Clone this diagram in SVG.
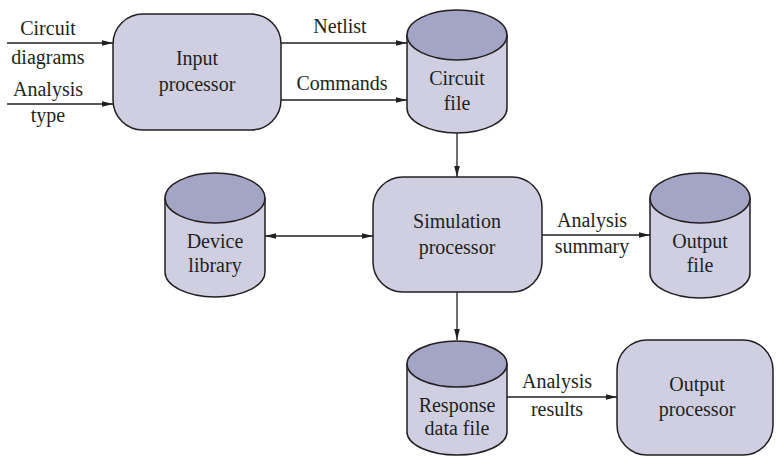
<svg xmlns="http://www.w3.org/2000/svg" width="776" height="457" viewBox="0 0 776 457" font-family="'Liberation Serif', 'Times New Roman', 'DejaVu Serif', serif">
<defs>
<marker id="ah" markerWidth="12" markerHeight="8" refX="11" refY="4" orient="auto-start-reverse" markerUnits="userSpaceOnUse">
<path d="M0,1.2 L11,4 L0,6.8 Z" fill="#231f20"/>
</marker>
<style>
.box{fill:#cfcfe1;stroke:#231f20;stroke-width:1.5}
.top{fill:#a4a4c5;stroke:#231f20;stroke-width:1.5}
.ln{stroke:#231f20;stroke-width:1.3;fill:none}
text{font-family:'Liberation Serif','Times New Roman','DejaVu Serif',serif;font-size:20px;fill:#231f20;text-anchor:middle}
</style>
</defs>
<rect width="776" height="457" fill="#ffffff"/>
<g id="connectors">
<line class="ln" x1="7" y1="43" x2="113" y2="43" marker-end="url(#ah)"/>
<line class="ln" x1="7" y1="104" x2="113" y2="104" marker-end="url(#ah)"/>
<line class="ln" x1="281" y1="43" x2="407" y2="43" marker-end="url(#ah)"/>
<line class="ln" x1="281" y1="100" x2="407" y2="100" marker-end="url(#ah)"/>
<line class="ln" x1="457" y1="133" x2="457" y2="177" marker-end="url(#ah)"/>
<line class="ln" x1="265" y1="236" x2="373" y2="236" marker-start="url(#ah)" marker-end="url(#ah)"/>
<line class="ln" x1="542" y1="235" x2="650" y2="235" marker-end="url(#ah)"/>
<line class="ln" x1="457" y1="292" x2="457" y2="340" marker-end="url(#ah)"/>
<line class="ln" x1="507" y1="397" x2="617" y2="397" marker-end="url(#ah)"/>
<text x="48" y="35">Circuit</text>
<text x="48" y="64">diagrams</text>
<text x="48" y="96">Analysis</text>
<text x="48" y="122">type</text>
<text x="340" y="33">Netlist</text>
<text x="342" y="90">Commands</text>
<text x="592" y="227">Analysis</text>
<text x="592" y="253">summary</text>
<text x="557" y="388">Analysis</text>
<text x="557" y="416">results</text>
</g>
<g id="input-processor">
<rect class="box" x="113" y="14" width="168" height="116" rx="30" ry="30"/>
<text x="197" y="65">Input</text>
<text x="197" y="91">processor</text>
</g>
<g id="circuit-file">
<path class="box" d="M407,35 L407,108 A50,25 0 0 0 507,108 L507,35 Z"/>
<ellipse class="top" cx="457" cy="35" rx="50" ry="25"/>
<text x="457" y="85">Circuit</text>
<text x="457" y="110">file</text>
</g>
<g id="simulation-processor">
<rect class="box" x="373" y="177" width="169" height="115" rx="30" ry="30"/>
<text x="457" y="228">Simulation</text>
<text x="457" y="254">processor</text>
</g>
<g id="device-library">
<path class="box" d="M165,198 L165,272 A50,25 0 0 0 265,272 L265,198 Z"/>
<ellipse class="top" cx="215" cy="198" rx="50" ry="25"/>
<text x="215" y="248">Device</text>
<text x="215" y="272">library</text>
</g>
<g id="output-file">
<path class="box" d="M650,198 L650,273 A50,25 0 0 0 750,273 L750,198 Z"/>
<ellipse class="top" cx="700" cy="198" rx="50" ry="25"/>
<text x="700" y="248">Output</text>
<text x="700" y="272">file</text>
</g>
<g id="response-data-file">
<path class="box" d="M407,364 L407,432 A50,23 0 0 0 507,432 L507,364 Z"/>
<ellipse class="top" cx="457" cy="364" rx="50" ry="23"/>
<text x="457" y="412">Response</text>
<text x="457" y="435">data file</text>
</g>
<g id="output-processor">
<rect class="box" x="617" y="340" width="156" height="115" rx="30" ry="30"/>
<text x="697" y="391">Output</text>
<text x="697" y="416">processor</text>
</g>
</svg>
